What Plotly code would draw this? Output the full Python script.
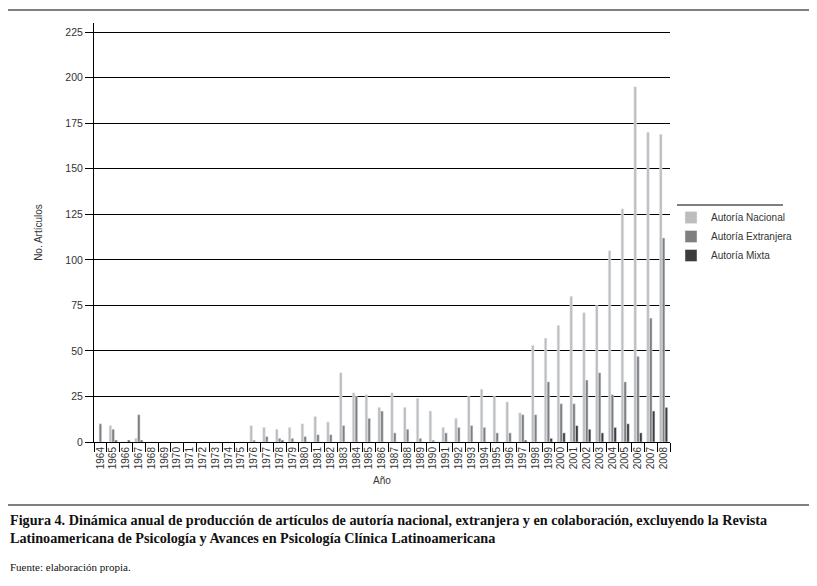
import plotly.graph_objects as go

years = [str(y) for y in range(1964, 2009)]
nacional = [0, 9, 0, 2, 0, 0, 0, 0, 0, 0, 0, 0,
            9, 8, 7, 8, 10, 14, 11, 38, 27, 26, 19, 27, 19, 24, 17, 8, 13, 25,
            29, 25, 22, 16, 53, 57, 64, 80, 71, 75, 105, 128, 195, 170, 169]
extranjera = [10, 7, 0, 15, 0, 0, 0, 0, 0, 0, 0, 0,
              1, 3, 2, 2, 3, 4, 4, 9, 25, 13, 17, 5, 7, 2, 1, 5, 8, 9,
              8, 5, 5, 15, 15, 33, 21, 21, 34, 38, 26, 33, 47, 68, 112]
mixta = [0, 1, 1, 1, 0, 0, 0, 0, 0, 0, 0, 0,
         0, 0, 1, 0, 0, 0, 0, 0, 0, 0, 0, 0, 0, 0, 0, 0, 0, 0,
         0, 0, 0, 1, 0, 2, 5, 9, 7, 5, 8, 10, 5, 17, 19]
y_ticks = [0, 25, 50, 75, 100, 125, 150, 175, 200, 225]

OFF = 8  # page body margin offset
W, H = 817, 586
L, R, T, B = 94 - OFF, 670 - OFF, 23 - OFF, 442 - OFF
PW = R - L
PH = B - T

def px(x):
    return (x - OFF - L) / PW

def py(y):
    return (B - (y - OFF)) / PH

fig = go.Figure()
fig.add_bar(x=years, y=nacional, name="Autoría Nacional", marker_color="#bdbdbd")
fig.add_bar(x=years, y=extranjera, name="Autoría Extranjera", marker_color="#7f7f7f")
fig.add_bar(x=years, y=mixta, name="Autoría Mixta", marker_color="#3c3c3c")

axis_font = dict(family="Liberation Sans, Arial", size=10, color="#333333")

fig.update_layout(
    width=W, height=H,
    margin=dict(l=L, r=W - R, t=T, b=H - B),
    paper_bgcolor="white", plot_bgcolor="white",
    barmode="group", bargap=0.34, bargroupgap=0.08,
    showlegend=True,
    legend=dict(x=px(671), y=py(203), xanchor="left", yanchor="top",
                font=dict(family="Liberation Sans, Arial", size=10, color="#333333"),
                bgcolor="rgba(0,0,0,0)", tracegroupgap=0, itemwidth=30),
    xaxis=dict(type="category", tickangle=-90, showline=True, linecolor="black",
               linewidth=1, ticks="outside", ticklen=9, tickcolor="black",
               tickmode="array", tickvals=years, ticktext=years,
               tickson="boundaries", tickfont=axis_font, showgrid=False,
               title=dict(text="Año", font=axis_font, standoff=8)),
    yaxis=dict(range=[0, 230], tickvals=y_ticks, showline=True, linecolor="black",
               linewidth=1, ticks="outside", ticklen=8, tickcolor="black",
               showgrid=True, gridcolor="black", gridwidth=1,
               tickfont=dict(family="Liberation Sans, Arial", size=10.5, color="#333333"),
               zeroline=False,
               title=dict(text="No. Artículos", font=axis_font, standoff=20)),
    font=dict(family="Liberation Sans, Arial"),
)

shapes = [
    dict(type="line", xref="paper", yref="paper", x0=px(8), x1=px(810), y0=py(10), y1=py(10),
         line=dict(color="black", width=1)),
    dict(type="line", xref="paper", yref="paper", x0=px(8), x1=px(810), y0=py(505), y1=py(505),
         line=dict(color="black", width=1)),
    dict(type="line", xref="paper", yref="paper", x0=px(677), x1=px(783), y0=py(205), y1=py(205),
         line=dict(color="black", width=1)),
]
fig.update_layout(shapes=shapes)

fig.add_annotation(
    xref="paper", yref="paper", x=px(8), y=py(510), xanchor="left", yanchor="top",
    align="left", showarrow=False,
    text="<b>Figura 4. Dinámica anual de producción de artículos de autoría nacional, extranjera y en colaboración, excluyendo la Revista<br>Latinoamericana de Psicología y Avances en Psicología Clínica Latinoamericana</b>",
    font=dict(family="Liberation Serif, Times New Roman", size=14.2, color="#111111"),
)
fig.add_annotation(
    xref="paper", yref="paper", x=px(8), y=py(567), xanchor="left", yanchor="middle",
    align="left", showarrow=False,
    text="Fuente: elaboración propia.",
    font=dict(family="Liberation Serif, Times New Roman", size=11, color="#111111"),
)

fig.write_html("out.html")
